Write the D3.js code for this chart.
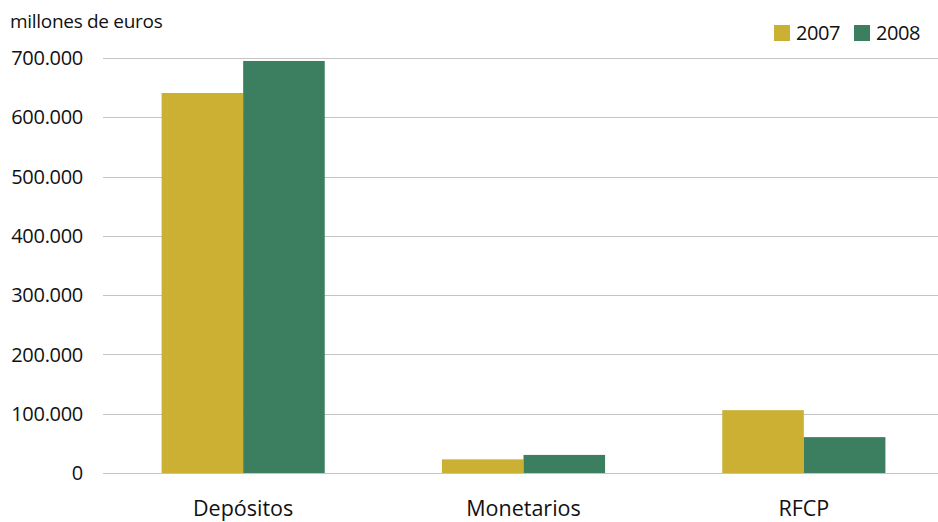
<!DOCTYPE html>
<html>
<head>
<meta charset="utf-8">
<script src="https://cdn.jsdelivr.net/npm/d3@7"></script>
<style>
  body { margin: 0; background: #fff; }
  text { font-family: "Open Sans", "Noto Sans", sans-serif; fill: #111; }
  .grid line { stroke: #c4c4c4; stroke-width: 1.2; }
</style>
</head>
<body>
<script>
const categories = ['Depósitos', 'Monetarios', 'RFCP']
const years = ['2007', '2008']
const values2007 = [641000, 23000, 106000]
const values2008 = [695000, 30500, 60500]
const yTicks = [0, 100000, 200000, 300000, 400000, 500000, 600000, 700000]
const colors = ['#CBB034', '#3B7F60']

const width = 938
const height = 522
const plotLeft = 103
const plotTop = 58
const plotBottom = 473

const series = [values2007, values2008]

const svg = d3.select('body')
    .append('svg')
    .attr('width', width)
    .attr('height', height)

const y = d3.scaleLinear()
    .domain([0, 700000])
    .range([plotBottom, plotTop])

const x = d3.scaleBand()
    .domain(categories)
    .range([plotLeft, 944])
    .paddingInner(0.418)
    .paddingOuter(0.209)

const xs = d3.scaleBand()
    .domain(years)
    .range([0, x.bandwidth()])

const fmt = v => d3.format(',')(v).replace(/,/g, '.')

// gridlines
svg.append('g')
    .attr('class', 'grid')
    .selectAll('line')
    .data(yTicks)
    .enter()
    .append('line')
    .attr('x1', plotLeft)
    .attr('x2', width)
    .attr('y1', d => Math.round(y(d)) + 0.5)
    .attr('y2', d => Math.round(y(d)) + 0.5)

// y labels
svg.append('g')
    .selectAll('text')
    .data(yTicks)
    .enter()
    .append('text')
    .attr('x', 83)
    .attr('y', d => y(d))
    .attr('dy', '0.36em')
    .attr('text-anchor', 'end')
    .style('font-size', '20px')
    .style('letter-spacing', '-0.3px')
    .text(fmt)

// bars
years.forEach((yr, i) => {
    svg.append('g')
        .selectAll('rect')
        .data(categories)
        .enter()
        .append('rect')
        .attr('x', d => x(d) + xs(yr))
        .attr('width', xs.bandwidth())
        .attr('y', (d, j) => y(series[i][j]))
        .attr('height', (d, j) => plotBottom - y(series[i][j]))
        .attr('fill', colors[i])
})

// category labels
svg.append('g')
    .selectAll('text')
    .data(categories)
    .enter()
    .append('text')
    .attr('x', d => x(d) + x.bandwidth() / 2)
    .attr('y', 516)
    .attr('text-anchor', 'middle')
    .style('font-size', '21.5px')
    .text(d => d)

// unit title
svg.append('text')
    .attr('x', 10)
    .attr('y', 28)
    .style('font-size', '19px')
    .style('letter-spacing', '-0.3px')
    .text('millones de euros')

// legend
const legend = svg.append('g')
    .selectAll('g')
    .data(years)
    .enter()
    .append('g')
    .attr('transform', (d, i) => `translate(${774 + i * 80},0)`)

legend.append('rect')
    .attr('x', 0)
    .attr('y', 25)
    .attr('width', 16)
    .attr('height', 16)
    .attr('fill', (d, i) => colors[i])

legend.append('text')
    .attr('x', 22)
    .attr('y', 40)
    .style('font-size', '20px')
    .style('letter-spacing', '-0.4px')
    .text(d => d)
</script>
</body>
</html>
